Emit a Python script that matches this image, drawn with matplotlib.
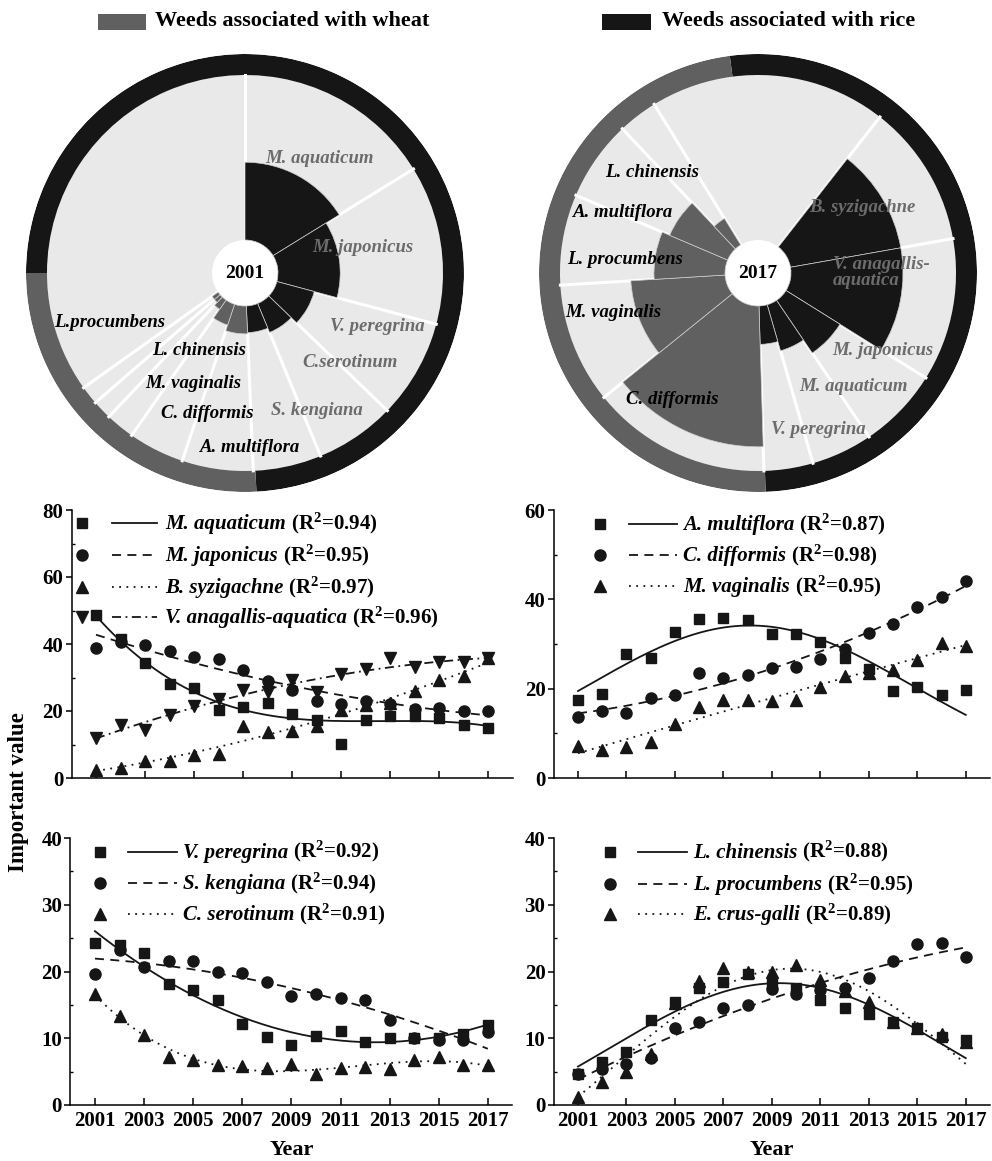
import numpy as np
import matplotlib
matplotlib.use('Agg')
import matplotlib.pyplot as plt
from matplotlib.patches import Rectangle
from matplotlib.offsetbox import TextArea, HPacker, AnnotationBbox

plt.rcParams['font.family'] = ['Liberation Serif', 'DejaVu Serif']
plt.rcParams['font.weight'] = 'bold'
plt.rcParams['mathtext.fontset'] = 'custom'
plt.rcParams['mathtext.rm'] = 'Liberation Serif:bold'
plt.rcParams['mathtext.it'] = 'Liberation Serif:italic:bold'
plt.rcParams['mathtext.bf'] = 'Liberation Serif:bold'

BLACK = '#161616'
GREY = '#606060'
LIGHT = '#e9e9e9'
LABEL_GREY = '#6c6c6c'

# ---------------- data ----------------
years = np.arange(2001, 2018)

# top left
m_aquaticum = [48.6, 41.4, 34.2, 28.0, 27.0, 20.4, 21.2, 22.5, 19.2, 17.2, 10.2, 17.2, 18.4, 18.5, 17.9, 15.9, 15.0]
m_japonicus = [38.9, 40.6, 39.6, 38.0, 36.1, 35.5, 32.3, 28.9, 26.3, 23.1, 22.2, 23.0, 22.2, 20.7, 21.0, 19.9, 19.9]
b_syzigachne = [2.5, 3.0, 5.0, 5.1, 7.0, 7.1, 15.4, 13.7, 14.1, 15.5, 20.2, 21.9, 22.5, 25.9, 29.2, 30.4, 35.7]
v_anagallis = [12.0, 15.7, 14.2, 18.7, 21.4, 23.5, 26.4, 25.7, 29.4, 25.7, 31.0, 32.4, 35.9, 33.2, 34.7, 34.7, 35.9]

# top right
a_multiflora = [17.4, 18.8, 27.7, 26.9, 32.6, 35.7, 35.9, 35.4, 32.3, 32.3, 30.4, 26.8, 24.4, 19.5, 20.3, 18.5, 19.7]
c_difformis = [13.7, 15.0, 14.6, 17.9, 18.5, 23.6, 22.4, 23.1, 24.6, 24.9, 26.6, 28.9, 32.4, 34.4, 38.3, 40.5, 44.0]
m_vaginalis = [7.1, 6.2, 7.0, 8.0, 12.0, 16.0, 17.4, 17.4, 17.3, 17.5, 20.4, 22.9, 23.4, 24.2, 26.5, 30.2, 29.5]

# bottom left
v_peregrina = [24.2, 24.0, 22.8, 18.1, 17.2, 15.7, 12.2, 10.2, 9.0, 10.3, 11.1, 9.5, 10.1, 10.0, 10.1, 10.7, 12.0]
s_kengiana = [19.6, 23.2, 20.7, 21.6, 21.6, 20.0, 19.8, 18.4, 16.3, 16.7, 16.1, 15.7, 12.7, 10.1, 9.7, 9.7, 11.0]
c_serotinum = [16.7, 13.3, 10.5, 7.2, 6.7, 6.0, 5.9, 5.6, 6.1, 4.6, 5.5, 5.7, 5.4, 6.8, 7.2, 6.0, 6.0]

# bottom right
l_chinensis = [4.7, 6.5, 7.9, 12.7, 15.5, 17.5, 18.4, 19.7, 18.2, 17.6, 15.7, 14.5, 13.6, 12.4, 11.5, 10.2, 9.7]
l_procumbens = [4.6, 5.4, 6.2, 7.1, 11.6, 12.4, 14.6, 15.0, 17.4, 16.6, 17.3, 17.6, 19.0, 21.5, 24.1, 24.3, 22.2]
e_crusgalli = [1.2, 3.5, 4.9, 7.7, 15.3, 18.6, 20.5, 20.0, 20.0, 21.0, 18.7, 17.1, 15.5, 12.5, 11.6, 10.6, 9.5]

# rose charts: sector names, importance values, group (r = rice, w = wheat)
rose01_names = ['M. aquaticum', 'M. japonicus', 'V. peregrina', 'C.serotinum', 'S. kengiana',
                'A. multiflora', 'C. difformis', 'M. vaginalis', 'L. chinensis', 'L.procumbens']
rose01_values = [48.6, 38.9, 24.2, 19.6, 16.7, 17.4, 13.7, 7.1, 4.7, 4.6]
rose01_groups = ['r', 'r', 'r', 'r', 'r', 'w', 'w', 'w', 'w', 'w']

rose17_names = ['B. syzigachne', 'V. anagallis-\naquatica', 'M. japonicus', 'M. aquaticum', 'V. peregrina',
                'C. difformis', 'M. vaginalis', 'L. procumbens', 'A. multiflora', 'L. chinensis']
rose17_values = [35.0, 35.0, 19.9, 15.0, 12.0, 44.0, 29.5, 22.2, 19.7, 9.7]
rose17_groups = ['r', 'r', 'r', 'r', 'r', 'w', 'w', 'w', 'w', 'w']

# ---------------- layout ----------------
W, H = 992, 1161
fig = plt.figure(figsize=(W / 100, H / 100), dpi=100)

R_HOLE, R_IN, R_OUT = 33, 198, 219
DEG_PER_UNIT = 1.2
GROUP_COLOR = {'r': BLACK, 'w': GREY}
TEXT_COLOR = {'r': LABEL_GREY, 'w': 'black'}


def draw_rose(cx, cy, year, names, values, groups, scale, start, ring, label_pos):
    rect = [(cx - R_OUT) / W, 1 - (cy + R_OUT) / H, 2 * R_OUT / W, 2 * R_OUT / H]
    ax = fig.add_axes(rect, projection='polar')
    ax.set_theta_zero_location('N')
    ax.set_theta_direction(-1)
    ax.set_ylim(0, R_OUT)
    ax.axis('off')

    values = np.asarray(values)
    widths = values * DEG_PER_UNIT
    starts = start + np.concatenate([[0], np.cumsum(widths)[:-1]])

    ax.bar(0, R_IN - R_HOLE, width=2 * np.pi, bottom=R_HOLE, color=LIGHT, lw=0, zorder=1)
    for a0, a1, c in ring:
        ax.bar(np.deg2rad((a0 + a1) / 2), R_OUT - R_IN, width=np.deg2rad(a1 - a0),
               bottom=R_IN, color=c, lw=0, zorder=1)
    for e in np.append(starts, starts[-1] + widths[-1]):
        ax.plot([np.deg2rad(e)] * 2, [R_HOLE, R_IN], color='white', lw=2.2, zorder=2)
    ax.bar(np.deg2rad(starts), values * scale, width=np.deg2rad(widths), bottom=R_HOLE,
           align='edge', color=[GROUP_COLOR[g] for g in groups],
           edgecolor='#cfcfcf', lw=0.5, zorder=3)

    ax.text(0, 0, year, ha='center', va='center', fontsize=14, zorder=5)
    for name, g, (b, r) in zip(names, groups, label_pos):
        ha = 'left' if '\n' in name else 'center'
        ax.text(np.deg2rad(b), r, name, ha=ha, va='center', fontsize=13.5,
                style='italic', color=TEXT_COLOR[g], zorder=6, linespacing=0.95)
    return ax


draw_rose(245, 273, '2001', rose01_names, rose01_values, rose01_groups, 1.6, 0,
          [(270, 537, BLACK), (177, 270, GREY)],
          [(33, 137), (77.6, 121), (112, 143), (130.6, 138), (152.3, 155),
           (178.4, 175), (195, 145), (205, 122), (211, 90), (250, 144)])
draw_rose(758, 273, '2017', rose17_names, rose17_values, rose17_groups, 3.2, 38,
          [(352.6, 538, BLACK), (178, 352.6, GREY)],
          [(58, 123), (89.5, 75), (121.6, 147), (140, 148), (159, 168),
           (214, 153), (254.6, 150), (275.6, 134), (294, 148), (313.6, 146)])

# header keys
fig.add_artist(Rectangle((98 / W, 1 - 30 / H), 48 / W, 16 / H, transform=fig.transFigure,
                         color=GREY, lw=0))
fig.text(155 / W, 1 - 21 / H, 'Weeds associated with wheat', va='center', fontsize=16)
fig.add_artist(Rectangle((602 / W, 1 - 30 / H), 49 / W, 16 / H, transform=fig.transFigure,
                         color=BLACK, lw=0))
fig.text(662 / W, 1 - 21 / H, 'Weeds associated with rice', va='center', fontsize=16)

# ---------------- scatter panels ----------------
SOLID = '-'
DASH = (0, (5, 3.5))
DOT = (0, (1, 3))
DASHDOT = (0, (5, 2.5, 1, 2.5))
LW = 1.3
XS = np.linspace(2001, 2017, 200)


def fit_curve(vals, model):
    x = years - 2001.0
    y = np.asarray(vals, float)
    if model.startswith('poly'):
        coef = np.polyfit(x, y, int(model[-1]))
        return np.polyval(coef, XS - 2001)
    # gaussian peak: y0 + A*exp(-(x-xc)^2 / (2 w^2)), grid search + linear lstsq
    # 'gauss0' keeps the baseline y0 at zero
    best = None
    for xc in np.linspace(0, 16, 161):
        for w in np.linspace(1.5, 12, 106):
            g = np.exp(-(x - xc) ** 2 / (2 * w * w))
            M = g[:, None] if model == 'gauss0' else np.column_stack([np.ones_like(x), g])
            coef = np.linalg.lstsq(M, y, rcond=None)[0]
            sse = np.sum((M @ coef - y) ** 2)
            if best is None or sse < best[0]:
                best = (sse, xc, w, coef)
    _, xc, w, coef = best
    y0, amp = (0.0, coef[0]) if model == 'gauss0' else coef
    return y0 + amp * np.exp(-(XS - 2001 - xc) ** 2 / (2 * w * w))


def key_label(ax, x, y, name, r2):
    parts = [TextArea(name, textprops=dict(style='italic', fontsize=15, fontweight='bold')),
             TextArea(' (R$^{2}$=' + r2 + ')', textprops=dict(fontsize=15, fontweight='bold'))]
    box = HPacker(children=parts, align='baseline', pad=0, sep=0)
    ab = AnnotationBbox(box, (x, y), xycoords='axes fraction', box_alignment=(0, 0.5),
                        frameon=False, pad=0, annotation_clip=False)
    ax.add_artist(ab)


def panel(rect, ymax, ystep, series, key, bottom_labels):
    ax = fig.add_axes(rect)
    for vals, mk, ms, ls, name, r2, model in series:
        ax.plot(years, vals, ls='none', marker=mk, ms=ms, color=BLACK, zorder=3, clip_on=False)
        ax.plot(XS, fit_curve(vals, model), ls=ls, lw=LW, color=BLACK, zorder=2)
    xm, xl0, xl1, xt, ys = key
    for (vals, mk, ms, ls, name, r2, model), y in zip(series, ys):
        ax.plot([xm], [y], ls='none', marker=mk, ms=ms, color=BLACK, transform=ax.transAxes, clip_on=False)
        ax.plot([xl0, xl1], [y, y], ls=ls, lw=LW, color=BLACK, transform=ax.transAxes, clip_on=False)
        key_label(ax, xt, y, name, r2)

    ax.set_xlim(2000, 2018)
    ax.set_ylim(0, ymax)
    ax.set_xticks(np.arange(2001, 2018, 2))
    ax.set_yticks(np.arange(0, ymax + 1, ystep))
    ax.set_yticks(np.arange(ystep / 2, ymax, ystep), minor=True)
    for s in ('top', 'right'):
        ax.spines[s].set_visible(False)
    for s in ('left', 'bottom'):
        ax.spines[s].set_linewidth(1.1)
    ax.tick_params(axis='x', direction='in', length=5, width=1.1, pad=4, labelsize=15,
                   labelbottom=bottom_labels)
    ax.tick_params(axis='y', which='major', direction='out', length=4, width=1.1, pad=2, labelsize=15)
    ax.tick_params(axis='y', which='minor', direction='in', length=2.5, width=1.0)
    if bottom_labels:
        ax.set_xlabel('Year', fontsize=16, fontweight='bold', labelpad=7)
    return ax


panel([71.5 / W, 1 - 778 / H, 441 / W, 268 / H], 80, 20,
      [(m_aquaticum, 's', 7.5, SOLID, 'M. aquaticum', '0.94', 'poly3'),
       (m_japonicus, 'o', 8, DASH, 'M. japonicus', '0.95', 'poly2'),
       (b_syzigachne, '^', 9, DOT, 'B. syzigachne', '0.97', 'poly2'),
       (v_anagallis, 'v', 9, DASHDOT, 'V. anagallis-aquatica', '0.96', 'poly2')],
      (0.024, 0.092, 0.194, 0.212, [0.951, 0.832, 0.713, 0.601]), False)

panel([553.75 / W, 1 - 778 / H, 436.25 / W, 268 / H], 60, 20,
      [(a_multiflora, 's', 7.5, SOLID, 'A. multiflora', '0.87', 'gauss0'),
       (c_difformis, 'o', 8, DASH, 'C. difformis', '0.98', 'poly2'),
       (m_vaginalis, '^', 9, DOT, 'M. vaginalis', '0.95', 'poly2')],
      (0.106, 0.172, 0.282, 0.296, [0.948, 0.832, 0.716]), False)

panel([70.4 / W, 1 - 1105 / H, 442 / W, 267 / H], 40, 10,
      [(v_peregrina, 's', 7.5, SOLID, 'V. peregrina', '0.92', 'poly2'),
       (s_kengiana, 'o', 8, DASH, 'S. kengiana', '0.94', 'poly2'),
       (c_serotinum, '^', 9, DOT, 'C. serotinum', '0.91', 'poly3')],
      (0.067, 0.130, 0.241, 0.255, [0.948, 0.831, 0.715]), True)

panel([553.75 / W, 1 - 1105 / H, 436.25 / W, 267 / H], 40, 10,
      [(l_chinensis, 's', 7.5, SOLID, 'L. chinensis', '0.88', 'gauss'),
       (l_procumbens, 'o', 8, DASH, 'L. procumbens', '0.95', 'poly2'),
       (e_crusgalli, '^', 9, DOT, 'E. crus-galli', '0.89', 'gauss')],
      (0.129, 0.194, 0.305, 0.319, [0.948, 0.828, 0.715]), True)

fig.text(19 / W, 1 - 792 / H, 'Important value', rotation=90, ha='center', va='center',
         fontsize=16.5, fontweight='bold')

fig.savefig('out.png', dpi=100)
